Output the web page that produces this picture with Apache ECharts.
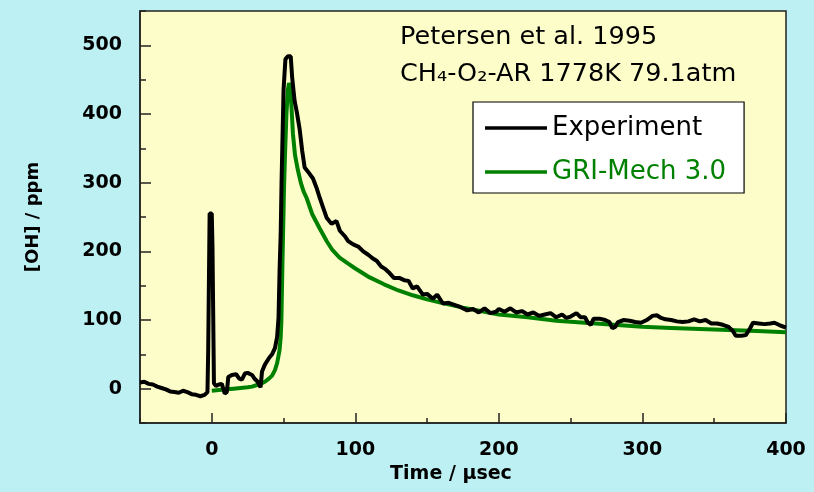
<!DOCTYPE html>
<html>
<head>
<meta charset="utf-8">
<script src="https://cdn.jsdelivr.net/npm/echarts@6/dist/echarts.min.js"></script>
<style>
html,body{margin:0;padding:0;background:#bdf0f2;}
#c{width:814px;height:492px;}
</style>
</head>
<body>
<div id="c"></div>
<script>
// ---- data ----
const expT = [-50,-47,-44,-41,-38,-35,-32,-29,-26,-23,-20,-17,-14,-11,-8,-5,-3,-2.5,-1.5,0,0.5,1.2,1.5,3,5,7,9,10.5,11.5,14,17,19,21,23,25,28,30,32,34,35,37,40,42,44,45.5,46.5,47.2,48,48.6,50,51.3,53,55,56,57.7,59.3,61.2,63,64.7,67,70.5,72.9,75.2,77.5,80,83.4,86.9,89.2,92.7,95,98.5,102,105.5,109,112,115,118,121,124,127,131,134,137,140,143,147,150,154,157,161,165,169,173,178,182,186,190,194,198,200,204,208,212,216,220,224,228,232,236,240,244,247,250,254,257,260,262,264,266,270,274,277,279,281,283,287,291,295,299,303,307,310,313,316,320,324,328,332,336,340,344,348,352,356,360,363,365,369,372,375,377,381,385,389,392,396,400];
const expOH = [9,10,7,6,3,1,-1,-4,-5,-6,-3,-5,-8,-9,-11,-9,-5,55,255,255,205,205,8,4,6,7,-7,-5,17,20,21,15,13,22,23,20,14,10,2,25,35,45,50,59,75,103,170,225,300,435,480,484,484,453,419,402,378,346,322,316,306,293,278,264,249,240,244,230,222,215,210,207,200,195,190,186,178,174,168,161,161,158,157,146,149,137,138,131,137,124,125,122,119,114,116,111,117,110,112,116,112,117,111,113,108,111,106,108,110,104,108,103,105,110,104,104,96,93,102,102,100,97,88,90,97,100,99,97,96,100,106,107,103,101,100,98,97,98,101,98,100,95,95,93,90,84,77,77,78,88,96,95,94,95,96,92,89];
const griT = [0,5,10,15,20,25,28,31,34,37,40,42,44,45.5,46.5,47.2,48,48.5,49.2,49.7,50.3,51,52,53,53.8,54.5,55.4,56.5,58,60,62,64,66,70,75,80,84,89,95,100,110,120,130,140,150,160,175,190,200,220,240,260,280,300,320,340,360,380,400];
const griOH = [-3,-2,-1,0,1,2,3,5,7,10,15,19,27,37,48,56,75,100,180,230,290,340,400,435,445,440,415,372,340,318,300,287,278,254,234,215,202,191,182,175,162,152,143,136,130,125,118,112,108,104,99,96,93,90,88.5,87,85.5,84,82];
const xMajor = [0,100,200,300,400];
const yMajor = [0,100,200,300,400,500];
const seriesNames = ['Experiment','GRI-Mech 3.0'];
const titleLines = ['Petersen et al. 1995','CH\u2084-O\u2082-AR 1778K 79.1atm'];
const xName = 'Time / \u00b5sec';
const yName = '[OH] / ppm';

const BLACK = '#000000', GREEN = '#008000', AXC = '#222222';
const labelFont = {fontFamily:'DejaVu Sans', fontWeight:'bold', fontSize:19, color:'#000'};

const chart = echarts.init(document.getElementById('c'), null, {renderer:'canvas'});
chart.setOption({
  animation:false,
  backgroundColor:'#bdf0f2',
  title:{
    text: titleLines.join('\n'),
    left:395, top:14,
    textStyle:{fontFamily:'DejaVu Sans', fontWeight:'normal', fontSize:25.5, lineHeight:37, color:'#000'}
  },
  legend:{
    orient:'vertical', left:473, top:102,
    backgroundColor:'#ffffff', borderColor:'#000', borderWidth:1.2,
    padding:[13,18,8,12],
    icon:'rect', itemWidth:62, itemHeight:3.5, itemGap:18,
    textStyle:{fontFamily:'DejaVu Sans', fontSize:26},
    data:[{name:seriesNames[0], textStyle:{color:BLACK}},{name:seriesNames[1], textStyle:{color:GREEN}}]
  },
  grid:{left:140, right:28, top:11, bottom:69, show:true, backgroundColor:'#fdfdc9', borderColor:AXC, borderWidth:1.5},
  xAxis:[{
    type:'value', min:-50, max:400, interval:50,
    name:xName, nameLocation:'middle', nameGap:42,
    nameTextStyle:{fontFamily:'DejaVu Sans', fontWeight:'bold', fontSize:19, color:'#000', padding:[0,24,0,0]},
    axisLine:{show:true, onZero:false, lineStyle:{color:AXC, width:1.5}},
    axisTick:{show:true, inside:true, length:5, lineStyle:{color:AXC, width:1.5}},
    axisLabel:Object.assign({margin:18, customValues:xMajor}, labelFont),
    splitLine:{show:false}
  },{
    type:'value', min:-50, max:400, position:'bottom',
    axisLine:{show:false, onZero:false},
    axisTick:{show:true, inside:true, length:10, customValues:xMajor, lineStyle:{color:AXC, width:1.5}},
    axisLabel:{show:false}, splitLine:{show:false}
  }],
  yAxis:[{
    type:'value', min:-50, max:550, interval:50,
    name:yName, nameLocation:'middle', nameGap:98, nameRotate:90,
    nameTextStyle:{fontFamily:'DejaVu Sans', fontWeight:'bold', fontSize:18, color:'#000'},
    axisLine:{show:true, onZero:false, lineStyle:{color:AXC, width:1.5}},
    axisTick:{show:true, inside:true, length:6, lineStyle:{color:AXC, width:1.5}},
    axisLabel:Object.assign({margin:18, customValues:yMajor}, labelFont),
    splitLine:{show:false}
  },{
    type:'value', min:-50, max:550, position:'left',
    axisLine:{show:false, onZero:false},
    axisTick:{show:true, inside:true, length:11, customValues:yMajor, lineStyle:{color:AXC, width:1.5}},
    axisLabel:{show:false}, splitLine:{show:false}
  }],
  series:[{
    name:seriesNames[1], type:'line', xAxisIndex:0, yAxisIndex:0,
    data: griT.map((t,i)=>[t, griOH[i]]),
    showSymbol:false, symbol:'none', color:GREEN,
    lineStyle:{color:GREEN, width:4}, z:2
  },{
    name:seriesNames[0], type:'line', xAxisIndex:0, yAxisIndex:0,
    data: expT.map((t,i)=>[t, expOH[i]]),
    showSymbol:false, symbol:'none', color:BLACK,
    lineStyle:{color:BLACK, width:4}, z:3
  }]
});
</script>
</body>
</html>
